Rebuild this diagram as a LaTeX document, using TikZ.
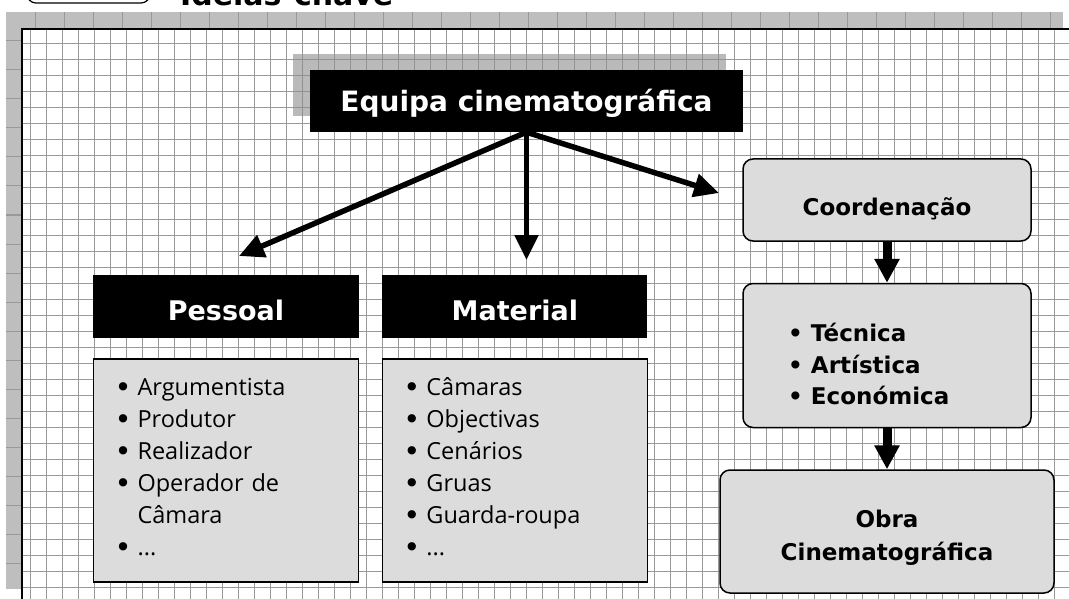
\documentclass[tikz,border=0pt]{standalone}
\usepackage{fontspec}
\setmainfont{DejaVu Sans}
\newfontfamily\listfont{Open Sans}
\usetikzlibrary{positioning,arrows.meta,shadows,calc}
\definecolor{boxgray}{HTML}{DCDCDC}
\definecolor{bandgray}{HTML}{BEBEBE}
\definecolor{gridgray}{HTML}{999999}
\newcommand{\listitm}[2][22pt]{\makebox[#1][l]{\rmfamily\bfseries\textbullet}#2}

\begin{document}
\begin{tikzpicture}[x=1pt, y=-1pt,
    head/.style={fill=black, text=white, font=\fontsize{27}{32}\selectfont\bfseries, minimum height=63pt, inner sep=0pt, text height=27pt, text depth=0pt},
    listbox/.style={draw, line width=1.5pt, fill=boxgray, minimum width=265pt, minimum height=223pt, inner xsep=22pt, inner ysep=0pt, text width=221pt, align=left, font=\listfont\fontsize{23.5}{32}\selectfont, text height=16pt, text depth=165pt},
    roundbox/.style={draw, line width=1.5pt, fill=boxgray, rounded corners=10pt, inner sep=0pt, font=\fontsize{23}{33}\selectfont\bfseries},
    arrow/.style={-{Triangle[length=25pt, width=23pt]}, line width=5.5pt},
    bigarrow/.style={-{Triangle[length=24pt, width=24pt]}, line width=9pt},
]
\useasboundingbox (0,0) rectangle (1069,599);

% page frame
\fill[bandgray] (6,12) rectangle (1063,29);
\fill[bandgray] (6,12) rectangle (22,589);
\foreach \bx in {35,64,...,1063} \draw[gridgray, line width=1pt] (\bx,12) -- (\bx,29);
\foreach \by in {41,70,...,589} \draw[gridgray, line width=1pt] (6,\by) -- (22,\by);
\fill[white] (22,29) rectangle (1069,599);
\begin{scope}
\clip (22,29) rectangle (1069,599);
\foreach \gx in {30,46,...,1070} \draw[gridgray, line width=1.5pt] (\gx+0.5,29) -- (\gx+0.5,599);
\foreach \gy in {43,59,...,599} \draw[gridgray, line width=1.5pt] (22,\gy+0.5) -- (1069,\gy+0.5);
\end{scope}
\draw[line width=2pt] (22,599) -- (22,29) -- (1069,29);
\node[draw, line width=1.2pt, rounded corners=9pt, minimum width=123pt, minimum height=44pt] (etiqueta) at (88.5,-19) {};
\node[anchor=base west, inner sep=0pt, font=\fontsize{30}{30}\selectfont\bfseries] (titulo) at (180,6) {Ideias-chave};

\node[head, minimum width=433pt, minimum height=62pt, font=\fontsize{28}{32}\selectfont\bfseries, text height=24pt, text depth=3pt,
      drop shadow={shadow xshift=-17pt, shadow yshift=16pt, fill=black!45, opacity=0.6}] (equipa) at (526.5,101) {Equipa cinematográfica};

\node[head, minimum width=266pt] (pessoal) at (226,306.5) {Pessoal};
\node[head, minimum width=265pt, right=23pt of pessoal] (material) {Material};
\node[listbox, below=20pt of pessoal] (plist) {\listitm{Argumentista}\\ \listitm{Produtor}\\ \listitm{Realizador}\\ \listitm{Operador de}\\ \hspace*{22pt}Câmara\\ \listitm{...}};
\node[listbox, below=20pt of material] (mlist) {\listitm{Câmaras}\\ \listitm{Objectivas}\\ \listitm{Cenários}\\ \listitm{Gruas}\\ \listitm{Guarda-roupa}\\ \listitm{...}};

\node[roundbox, minimum width=288pt, minimum height=82pt, text height=30pt, text depth=0pt] (coord) at (887,200) {Coordenação};
\node[roundbox, minimum width=288pt, minimum height=144pt, below=41pt of coord, align=left, text width=198pt, inner xsep=45pt, text height=35pt, text depth=63pt, font=\fontsize{23}{31.5}\selectfont\bfseries] (aspectos) {\listitm[23pt]{Técnica}\\ \listitm[23pt]{Artística}\\ \listitm[23pt]{Económica}};
\node[roundbox, minimum width=334pt, minimum height=123pt, below=41pt of aspectos, align=center, text width=334pt, text height=29pt, text depth=38pt] (obra) {Obra\\Cinematográfica};

\coordinate (toP) at (239,256);
\coordinate (toM) at (526.5,260);
\coordinate (toC) at (719,193);
\draw[arrow] (equipa.south) -- (toP);
\draw[arrow] (equipa.south) -- (toM);
\draw[arrow] (equipa.south) -- (toC);
\draw[bigarrow] (coord.south) -- (aspectos.north);
\draw[bigarrow] (aspectos.south) -- (obra.north);
\end{tikzpicture}
\end{document}
